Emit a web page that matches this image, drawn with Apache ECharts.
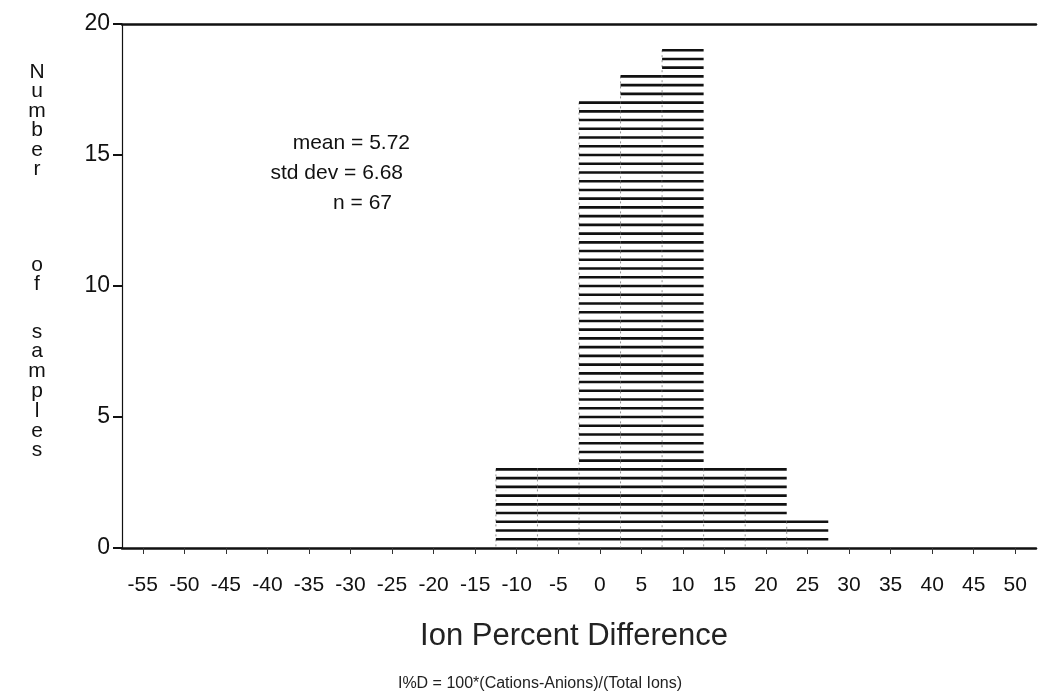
<!DOCTYPE html>
<html>
<head>
<meta charset="utf-8">
<script src="https://cdn.jsdelivr.net/npm/echarts@6/dist/echarts.min.js"></script>
<style>
html,body{margin:0;padding:0;background:#fff;}
#chart{width:1046px;height:700px;}
</style>
</head>
<body>
<div id="chart"></div>
<script>
// Histogram bins (Ion Percent Difference, %)
const binStart = [-12.5, -7.5, -2.5, 2.5, 7.5, 12.5, 17.5, 22.5];
const binEnd   = [-7.5, -2.5, 2.5, 7.5, 12.5, 17.5, 22.5, 27.5];
const counts   = [3, 3, 17, 18, 19, 3, 3, 1];
const xTickValues = [-55,-50,-45,-40,-35,-30,-25,-20,-15,-10,-5,0,5,10,15,20,25,30,35,40,45,50];
const statsLines = ['mean = 5.72', 'std dev = 6.68', 'n = 67'];
const xTitle = 'Ion Percent Difference';
const xSubtitle = 'I%D = 100*(Cations-Anions)/(Total Ions)';
const yTitleParts = ['Number', 'of', 'samples'];

const FONT = '"Liberation Sans", Arial, sans-serif';
const INK = '#111';

const chart = echarts.init(document.getElementById('chart'), null, {renderer: 'canvas'});

const data = binStart.map((s, i) => [s, binEnd[i], counts[i]]);

function renderItem(params, api) {
  const x0 = api.value(0), x1 = api.value(1), c = api.value(2);
  const pBot = api.coord([x0, 0]);
  const pTop = api.coord([x1, c]);
  const children = [];
  children.push({
    type: 'line',
    shape: {x1: pBot[0], y1: pTop[1], x2: pBot[0], y2: pBot[1]},
    style: {stroke: '#777', lineWidth: 0.8, lineDash: [2, 3]}
  });
  const n = Math.round(c * 3);
  for (let k = 0; k < n; k++) {
    const v = c - k / 3;
    const y = api.coord([x0, v])[1];
    children.push({
      type: 'line',
      shape: {x1: pBot[0], y1: y, x2: pTop[0], y2: y},
      style: {stroke: INK, lineWidth: 2.6}
    });
  }
  return {type: 'group', children: children};
}

function letters(word) { return word.split('').join('\n'); }

const option = {
  backgroundColor: '#fff',
  animation: false,
  grid: {left: 122, right: 10, top: 24, bottom: 152, containLabel: false},
  xAxis: [{
    type: 'value', min: -57.5, max: 52.5,
    axisLine: {show: true, onZero: false, lineStyle: {color: INK, width: 2.5}},
    axisTick: {show: true, customValues: xTickValues, length: 6, inside: false, lineStyle: {color: '#333', width: 1}},
    axisLabel: {show: true, customValues: xTickValues, margin: 27, fontFamily: FONT, fontSize: 21, color: INK},
    splitLine: {show: false}
  }, {
    type: 'value', min: -57.5, max: 52.5, position: 'top',
    axisLine: {show: true, onZero: false, lineStyle: {color: INK, width: 2.5}},
    axisTick: {show: false}, axisLabel: {show: false}, splitLine: {show: false}
  }],
  yAxis: {
    type: 'value', min: 0, max: 20, interval: 5,
    axisLine: {show: true, onZero: false, lineStyle: {color: INK, width: 1.2}},
    axisTick: {show: true, length: 9, lineStyle: {color: INK, width: 2}},
    axisLabel: {margin: 12, fontFamily: FONT, fontSize: 23, color: INK},
    splitLine: {show: false}
  },
  series: [{
    type: 'custom',
    renderItem: renderItem,
    encode: {x: [0, 1], y: 2},
    data: data,
    clip: false
  }],
  graphic: [
    {type: 'text', x: 410, y: 143, style: {text: statsLines[0], font: '21px ' + FONT, fill: INK, align: 'right', verticalAlign: 'middle'}},
    {type: 'text', x: 403, y: 173, style: {text: statsLines[1], font: '21px ' + FONT, fill: INK, align: 'right', verticalAlign: 'middle'}},
    {type: 'text', x: 392, y: 203, style: {text: statsLines[2], font: '21px ' + FONT, fill: INK, align: 'right', verticalAlign: 'middle'}},
    {type: 'text', x: 574, y: 636, style: {text: xTitle, font: '31px ' + FONT, fill: '#222', align: 'center', verticalAlign: 'middle'}},
    {type: 'text', x: 540, y: 684, style: {text: xSubtitle, font: '16px ' + FONT, fill: '#222', align: 'center', verticalAlign: 'middle'}},
    {type: 'text', x: 37, y: 62, style: {text: letters(yTitleParts[0]), font: '21px ' + FONT, fill: INK, lineHeight: 19.5, align: 'center'}},
    {type: 'text', x: 37, y: 255, style: {text: letters(yTitleParts[1]), font: '21px ' + FONT, fill: INK, lineHeight: 19.5, align: 'center'}},
    {type: 'text', x: 37, y: 322, style: {text: letters(yTitleParts[2]), font: '21px ' + FONT, fill: INK, lineHeight: 19.8, align: 'center'}}
  ]
};
chart.setOption(option);
</script>
</body>
</html>
